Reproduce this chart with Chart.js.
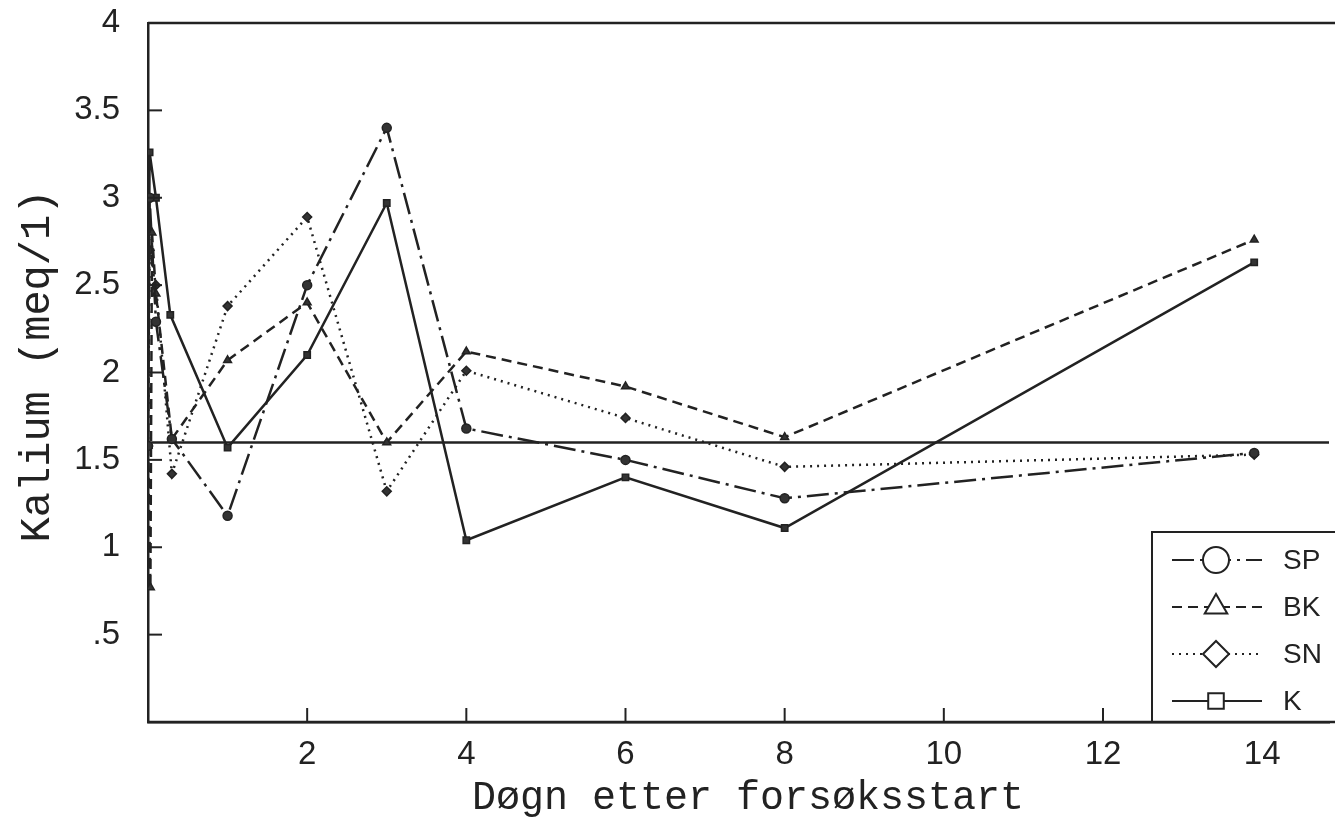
<!DOCTYPE html>
<html>
<head>
<meta charset="utf-8">
<script src="https://cdn.jsdelivr.net/npm/chart.js@4.4.0/dist/chart.umd.min.js"></script>
<style>
html, body { margin: 0; padding: 0; background: #fff; }
#wrap { width: 1335px; height: 821px; }
</style>
</head>
<body>
<div id="wrap"><canvas id="kalium-chart"></canvas></div>
<script>
//#region Data
var spDays = [0, 0.02, 0.1, 0.3, 1, 2, 3, 4, 6, 8, 13.9];
var spValues = [1.58, 3.0, 2.29, 1.62, 1.18, 2.5, 3.4, 1.68, 1.5, 1.28, 1.54];

var bkDays = [0, 0.03, 0.05, 0.1, 0.3, 1, 2, 3, 4, 6, 8, 13.9];
var bkValues = [1.58, 0.77, 2.8, 2.45, 1.62, 2.07, 2.4, 1.6, 2.12, 1.92, 1.63, 2.76];

var snDays = [0, 0.02, 0.1, 0.3, 1, 2, 3, 4, 6, 8, 13.9];
var snValues = [1.58, 2.7, 2.5, 1.42, 2.38, 2.89, 1.32, 2.01, 1.74, 1.46, 1.53];

var kDays = [0, 0.02, 0.1, 0.28, 1, 2, 3, 4, 6, 8, 13.9];
var kValues = [1.58, 3.26, 3.0, 2.33, 1.57, 2.1, 2.97, 1.04, 1.4, 1.11, 2.63];

var refLevel = 1.6;
var xTicks = [2, 4, 6, 8, 10, 12, 14];
var yTicks = [0.5, 1, 1.5, 2, 2.5, 3, 3.5, 4];
var xTitle = 'Døgn etter forsøksstart';
var yTitle = 'Kalium (meq/1)';
//#endregion

function toPoints(days, values) {
    return days.map(function (d, i) { return { x: d, y: values[i] }; });
}

var ink = '#222222';
var tickFont = { size: 33, family: '"Liberation Sans", Arial, sans-serif' };

var series = [
    { label: 'SP', days: spDays, values: spValues, style: 'circle', dash: [22, 6, 3, 6] },
    { label: 'BK', days: bkDays, values: bkValues, style: 'triangle', dash: [10, 6] },
    { label: 'SN', days: snDays, values: snValues, style: 'rectRot', dash: [2, 5] },
    { label: 'K', days: kDays, values: kValues, style: 'rect', dash: [] }
];

var datasets = series.map(function (s) {
    return {
        label: s.label,
        data: toPoints(s.days, s.values),
        borderColor: ink,
        borderWidth: 2.5,
        borderDash: s.dash,
        pointStyle: s.style,
        pointRadius: 4.5,
        pointBorderWidth: 1.5,
        pointBackgroundColor: '#333',
        pointBorderColor: ink,
        fill: false,
        tension: 0
    };
});

// reference level across the whole plot
datasets.push({
    label: 'ref',
    data: [{ x: 0, y: refLevel }, { x: 14.84, y: refLevel }],
    borderColor: ink,
    borderWidth: 2.5,
    pointRadius: 0,
    fill: false
});

var frameAndLegend = {
    id: 'frameAndLegend',
    afterDraw: function (chart) {
        var ctx = chart.ctx;
        var area = chart.chartArea;
        var xs = chart.scales.x;
        var ys = chart.scales.y;
        ctx.save();
        ctx.strokeStyle = ink;
        ctx.lineWidth = 2.5;
        ctx.setLineDash([]);

        // top frame line
        ctx.beginPath();
        ctx.moveTo(area.left, area.top);
        ctx.lineTo(chart.width, area.top);
        ctx.stroke();

        // inward ticks
        ctx.lineWidth = 2;
        yTicks.forEach(function (v) {
            if (v >= 4) return;
            var py = ys.getPixelForValue(v);
            ctx.beginPath();
            ctx.moveTo(area.left, py);
            ctx.lineTo(area.left + 14, py);
            ctx.stroke();
        });
        xTicks.forEach(function (v) {
            var px = xs.getPixelForValue(v);
            ctx.beginPath();
            ctx.moveTo(px, area.bottom);
            ctx.lineTo(px, area.bottom - 14);
            ctx.stroke();
        });

        // legend box
        var bx = 1152, by = 532;
        ctx.fillStyle = '#fff';
        ctx.fillRect(bx, by, chart.width - bx, area.bottom - by);
        ctx.lineWidth = 2;
        ctx.beginPath();
        ctx.moveTo(bx, area.bottom);
        ctx.lineTo(bx, by);
        ctx.lineTo(chart.width, by);
        ctx.stroke();

        series.forEach(function (s, i) {
            var ly = 560 + i * 47;
            ctx.strokeStyle = ink;
            ctx.lineWidth = 2;
            ctx.setLineDash(s.dash);
            ctx.beginPath();
            ctx.moveTo(1172, ly);
            ctx.lineTo(1262, ly);
            ctx.stroke();
            ctx.setLineDash([]);
            ctx.fillStyle = '#fff';
            Chart.helpers.drawPoint(ctx, {
                pointStyle: s.style,
                radius: s.style === 'rect' ? 11 : 13,
                rotation: 0,
                borderWidth: 2
            }, 1216, ly);
            ctx.fillStyle = ink;
            ctx.font = '28px "Liberation Sans", Arial, sans-serif';
            ctx.textAlign = 'left';
            ctx.textBaseline = 'middle';
            ctx.fillText(s.label, 1283, ly + 1);
        });

        // axis line along the bottom to the very edge
        ctx.lineWidth = 2.5;
        ctx.beginPath();
        ctx.moveTo(area.left, area.bottom);
        ctx.lineTo(chart.width, area.bottom);
        ctx.stroke();

        // axis titles
        ctx.fillStyle = ink;
        ctx.font = '40px "Liberation Mono", "DejaVu Sans Mono", monospace';
        ctx.textAlign = 'center';
        ctx.textBaseline = 'middle';
        ctx.fillText(xTitle, 748, 798);

        ctx.save();
        ctx.translate(38, 366);
        ctx.rotate(-Math.PI / 2);
        ctx.font = '42px "Liberation Mono", "DejaVu Sans Mono", monospace';
        ctx.fillText(yTitle, 0, 0);
        ctx.restore();

        ctx.restore();
    }
};

var canvas = document.querySelector('#kalium-chart').getContext('2d');
var kaliumChart = new Chart(canvas, {
    type: 'line',
    data: { datasets: datasets },
    options: {
        responsive: true,
        maintainAspectRatio: false,
        animation: false,
        layout: { padding: { top: 23, right: -5, left: 0, bottom: 0 } },
        plugins: {
            legend: { display: false },
            tooltip: { enabled: false }
        },
        scales: {
            x: {
                type: 'linear',
                min: 0,
                max: 14.84,
                afterBuildTicks: function (scale) {
                    scale.ticks = xTicks.map(function (v) { return { value: v }; });
                },
                afterFit: function (scale) {
                    scale.height = 99;
                    scale.paddingLeft = 0;
                    scale.paddingRight = 0;
                },
                grid: { display: false },
                border: { display: true, color: ink, width: 2.5 },
                ticks: {
                    color: ink,
                    padding: 5,
                    maxRotation: 0,
                    font: tickFont
                }
            },
            y: {
                min: 0,
                max: 4,
                afterBuildTicks: function (scale) {
                    scale.ticks = yTicks.map(function (v) { return { value: v }; });
                },
                afterFit: function (scale) {
                    scale.width = 148;
                    scale.paddingTop = 0;
                    scale.paddingBottom = 0;
                },
                grid: { display: false },
                border: { display: true, color: ink, width: 2.5 },
                ticks: {
                    color: ink,
                    padding: 20,
                    font: tickFont,
                    callback: function (v) { return v === 0.5 ? '.5' : String(v); }
                }
            }
        }
    },
    plugins: [frameAndLegend]
});
</script>
</body>
</html>
